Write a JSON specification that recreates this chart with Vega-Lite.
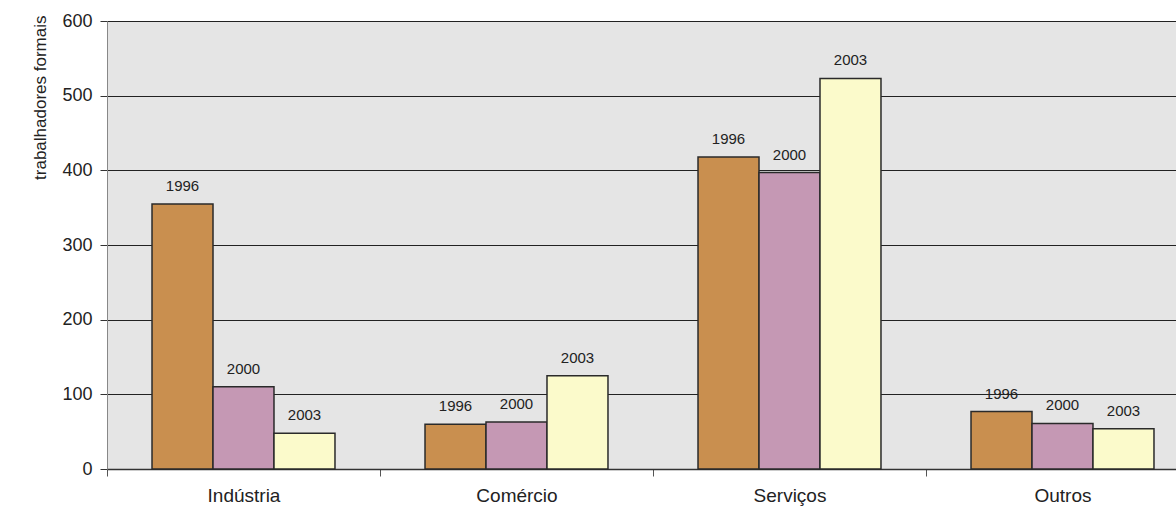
{
  "$schema": "https://vega.github.io/schema/vega-lite/v6.json",
  "width": 1069,
  "height": 448,
  "autosize": {"type": "none"},
  "padding": {"left": 107, "top": 21, "right": 0, "bottom": 39},
  "background": "white",
  "config": {
    "font": "Liberation Sans",
    "view": {"fill": "#e5e5e5", "stroke": null}
  },
  "data": {
    "values": [
      {"setor": "Indústria", "ano": "1996", "valor": 355},
      {"setor": "Indústria", "ano": "2000", "valor": 110},
      {"setor": "Indústria", "ano": "2003", "valor": 48},
      {"setor": "Comércio", "ano": "1996", "valor": 60},
      {"setor": "Comércio", "ano": "2000", "valor": 63},
      {"setor": "Comércio", "ano": "2003", "valor": 125},
      {"setor": "Serviços", "ano": "1996", "valor": 418},
      {"setor": "Serviços", "ano": "2000", "valor": 397},
      {"setor": "Serviços", "ano": "2003", "valor": 523},
      {"setor": "Outros", "ano": "1996", "valor": 77},
      {"setor": "Outros", "ano": "2000", "valor": 61},
      {"setor": "Outros", "ano": "2003", "valor": 54}
    ]
  },
  "encoding": {
    "x": {
      "field": "setor",
      "type": "nominal",
      "sort": ["Indústria", "Comércio", "Serviços", "Outros"],
      "scale": {"range": [0, 1092], "paddingInner": 0, "paddingOuter": 0},
      "axis": {
        "title": null,
        "labelAngle": 0,
        "labelFontSize": 19,
        "labelColor": "#222",
        "labelPadding": 10,
        "tickBand": "extent",
        "tickSize": 7,
        "tickColor": "#555",
        "domainColor": "#333",
        "domainWidth": 1.5,
        "grid": false
      }
    },
    "xOffset": {"field": "ano", "type": "nominal", "scale": {"paddingInner": 0, "paddingOuter": 0.738}},
    "y": {
      "field": "valor",
      "type": "quantitative",
      "scale": {"domain": [0, 600], "nice": false},
      "axis": {
        "title": "trabalhadores formais",
        "titleFontSize": 17,
        "titleFontWeight": "normal",
        "titleColor": "#222",
        "titlePadding": 12,
        "titleAnchor": "end",
        "titleY": -6,
        "values": [0, 100, 200, 300, 400, 500, 600],
        "labelFontSize": 18,
        "labelColor": "#222",
        "labelPadding": 8,
        "tickSize": 7,
        "tickColor": "#333",
        "domainColor": "#888",
        "grid": true,
        "gridColor": "#222",
        "gridWidth": 1,
        "gridOpacity": 1
      }
    }
  },
  "layer": [
    {
      "mark": {"type": "bar", "stroke": "#2a2a2a", "strokeWidth": 1.5},
      "encoding": {
        "color": {
          "field": "ano",
          "type": "nominal",
          "scale": {"domain": ["1996", "2000", "2003"], "range": ["#c98f4f", "#c598b4", "#fbfacb"]},
          "legend": null
        }
      }
    },
    {
      "mark": {"type": "text", "baseline": "bottom", "dy": -10, "fontSize": 15, "color": "#222"},
      "encoding": {"text": {"field": "ano"}}
    }
  ]
}
